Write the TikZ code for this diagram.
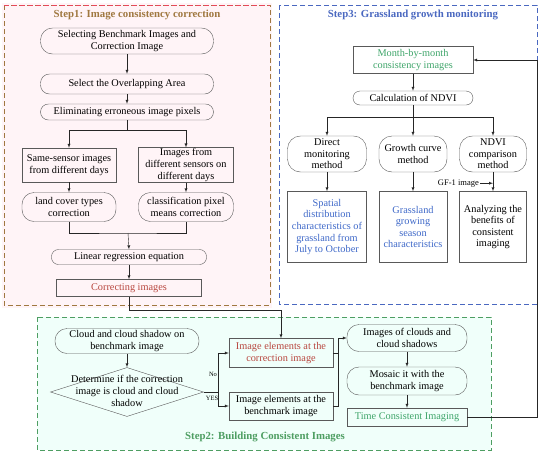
\documentclass[tikz,border=0pt]{standalone}
\usepackage{fontspec}
\setmainfont{Liberation Serif}
\usepackage{tikz}
\usetikzlibrary{positioning,shapes.geometric}
\definecolor{StepRed}{HTML}{E8485A}
\definecolor{StepBrown}{HTML}{A07840}
\definecolor{StepBlue}{HTML}{4A68C0}
\definecolor{StepGreen}{HTML}{4E9E62}
\definecolor{TxtRed}{HTML}{B8473F}
\definecolor{TxtGreen}{HTML}{3FA56A}
\definecolor{TxtBlue}{HTML}{3E68C8}
\definecolor{PinkBg}{HTML}{FFF4F7}
\definecolor{MintBg}{HTML}{F0FFFA}
\tikzstyle{pill} = [draw=black!65,rounded corners=12pt,align=center,inner sep=1pt,font=\fontsize{10.3}{11.6}\selectfont]
\tikzstyle{rect} = [draw=black!65,align=center,inner sep=1pt,font=\fontsize{10.3}{11.6}\selectfont]
\tikzstyle{conn} = [draw=black!85,-latex]
\tikzstyle{line} = [draw=black!85]
\tikzstyle{frame} = [dash pattern=on 5pt off 3pt,line width=1pt]
\tikzstyle{steptitle} = [font=\bfseries\fontsize{10.8}{12}\selectfont]

\begin{document}
\begin{tikzpicture}[x=1pt,y=-1pt]
			\useasboundingbox (0,0) rectangle (550,456);
			
			% frames of the three steps
			\fill[PinkBg] (2,3) rectangle (272,308);
			\draw[StepBrown,frame] (4,5) rectangle (270,305);
			\draw[StepRed,frame] (4,5) -- (270,5);
			\draw[StepBlue,frame] (279,5) rectangle (537,304);
			\fill[MintBg] (37,317) rectangle (491,450);
			\draw[StepGreen,frame] (37,317) rectangle (491,450);
			
			\node[steptitle,text=StepBrown] (t1) at (137,15) {Step1: Image consistency correction};
			\node[steptitle,text=StepBlue] (t3) at (413,15) {Step3: Grassland growth monitoring};
			\node[steptitle,text=StepGreen] (t2) at (265,437) {Step2: Building Consistent Images};
			
			% step 1
			\node[pill,minimum width=173pt,minimum height=26pt] (sel) at (127,41) {Selecting Benchmark Images and\\Correction Image};
			\node[pill,rounded corners=9pt,minimum width=173pt,minimum height=20pt] (ovl) at (127,84) {Select the Overlapping Area};
			\node[pill,rounded corners=8pt,minimum width=173pt,minimum height=16pt] (elim) at (127,112) {Eliminating erroneous image pixels};
			\node[rect,minimum width=94pt,minimum height=34pt] (same) at (69,165) {Same-sensor images\\from different days};
			\node[rect,minimum width=95pt,minimum height=34pt] (diff) at (186,165) {Images from\\different sensors on\\different days};
			\node[pill,minimum width=94pt,minimum height=29pt] (land) at (69,207) {land cover types\\correction};
			\node[pill,minimum width=95pt,minimum height=29pt] (clas) at (186,207) {classification pixel\\means correction};
			\node[pill,rounded corners=7pt,minimum width=155pt,minimum height=15pt] (lin) at (129,257) {Linear regression equation};
			\node[rect,text=TxtRed,minimum width=145pt,minimum height=17pt] (corr) at (129,288) {Correcting images};
			
			\draw[conn] (sel) -- (ovl);
			\draw[conn] (ovl) -- (elim);
			\draw[line] (elim.south) -- (127,130);
			\draw[conn] (69,130) -- (same.north);
			\draw[conn] (186,130) -- (diff.north);
			\draw[line] (69,130) -- (186,130);
			\draw[conn] (same) -- (land);
			\draw[conn] (diff) -- (clas);
			\draw[line] (land.south) |- (128,233) -| (clas.south);
			\draw[conn] (128,233) -- (lin.north);
			\draw[conn] (lin) -- (corr);
			
			% step 3
			\node[rect,text=TxtGreen,minimum width=120pt,minimum height=27pt] (month) at (413,60) {Month-by-month\\consistency images};
			\node[pill,rounded corners=7pt,minimum width=120pt,minimum height=14pt] (ndvi) at (413,98) {Calculation of NDVI};
			\node[pill,rounded corners=13pt,minimum width=79pt,minimum height=36pt] (dir) at (327,154) {Direct\\monitoring\\method};
			\node[pill,rounded corners=13pt,minimum width=68pt,minimum height=36pt] (grow) at (413,154) {Growth curve\\method};
			\node[pill,rounded corners=13pt,minimum width=67pt,minimum height=36pt] (comp) at (493,154) {NDVI\\comparison\\method};
			\node[rect,text=TxtBlue,minimum width=79pt,minimum height=71pt] (spat) at (327,227) {Spatial\\distribution\\characteristics of\\grassland from\\July to October};
			\node[rect,text=TxtBlue,minimum width=68pt,minimum height=71pt] (gras) at (413,227) {Grassland\\growing\\season\\characteristics};
			\node[rect,minimum width=67pt,minimum height=71pt] (ana) at (493,227) {Analyzing the\\benefits of\\consistent\\imaging};
			\node[font=\fontsize{8.5}{9}\selectfont,inner sep=1pt,left=13pt of comp.south,yshift=-11pt] (gf) {GF-1 image};
			\coordinate (gfend) at (comp.south |- gf.east);
			
			\draw[conn] (month) -- (ndvi);
			\draw[line] (ndvi.south) -- (413,117);
			\draw[line] (327,117) -- (493,117);
			\draw[conn] (327,117) -- (dir.north);
			\draw[conn] (413,117) -- (grow.north);
			\draw[conn] (493,117) -- (comp.north);
			\draw[conn] (dir) -- (spat);
			\draw[conn] (grow) -- (gras);
			\draw[conn] (comp) -- (ana);
			\draw[conn] (gf) -- (gfend);
			
			% step 2
			\node[pill,minimum width=144pt,minimum height=25pt] (cloud) at (127,341) {Cloud and cloud shadow on\\benchmark image};
			\node[draw=black!65,diamond,minimum width=153pt,minimum height=49pt,inner sep=0pt] (det) at (127,392) {};
			\node[align=center,inner sep=0pt,font=\fontsize{10.3}{11.6}\selectfont] (dett) at (127,391) {Determine if the correction\\image is cloud and cloud\\shadow};
			\node[rect,text=TxtRed,minimum width=104pt,minimum height=29pt] (ecorr) at (281,353) {Image elements at the\\correction image};
			\node[rect,minimum width=104pt,minimum height=28pt] (ebench) at (281,406) {Image elements at the\\benchmark image};
			\node[pill,minimum width=120pt,minimum height=27pt] (imgc) at (407,338) {Images of clouds and\\cloud shadows};
			\node[pill,minimum width=120pt,minimum height=28pt] (mos) at (407,381) {Mosaic it with the\\benchmark image};
			\node[rect,text=TxtGreen,minimum width=120pt,minimum height=18pt] (time) at (407,417) {Time Consistent Imaging};
			\node[font=\fontsize{6.5}{7}\selectfont,inner sep=0pt] (no) at (213,374) {No};
			\node[font=\fontsize{6.5}{7}\selectfont,inner sep=0pt] (yes) at (212,398) {YES};
			
			\draw[conn] (cloud) -- (det);
			\draw[line] (det.east) -- (218,392);
			\draw[conn] (218,392) |- (ecorr.west);
			\draw[conn] (218,392) |- (ebench.west);
			\draw[line] (ecorr.east) -- (338,353);
			\draw[line] (ebench.east) -| (338,338);
			\draw[conn] (338,338) -- (imgc.west);
			\draw[conn] (imgc) -- (mos);
			\draw[conn] (mos) -- (time);
			
			% links between the steps
			\draw[conn] (corr.south) -- ++(0,13) -| (ecorr.north);
			\draw[conn] (time.east) -- (537,417) |- (month.east);
			
			\end{tikzpicture}
\end{document}
